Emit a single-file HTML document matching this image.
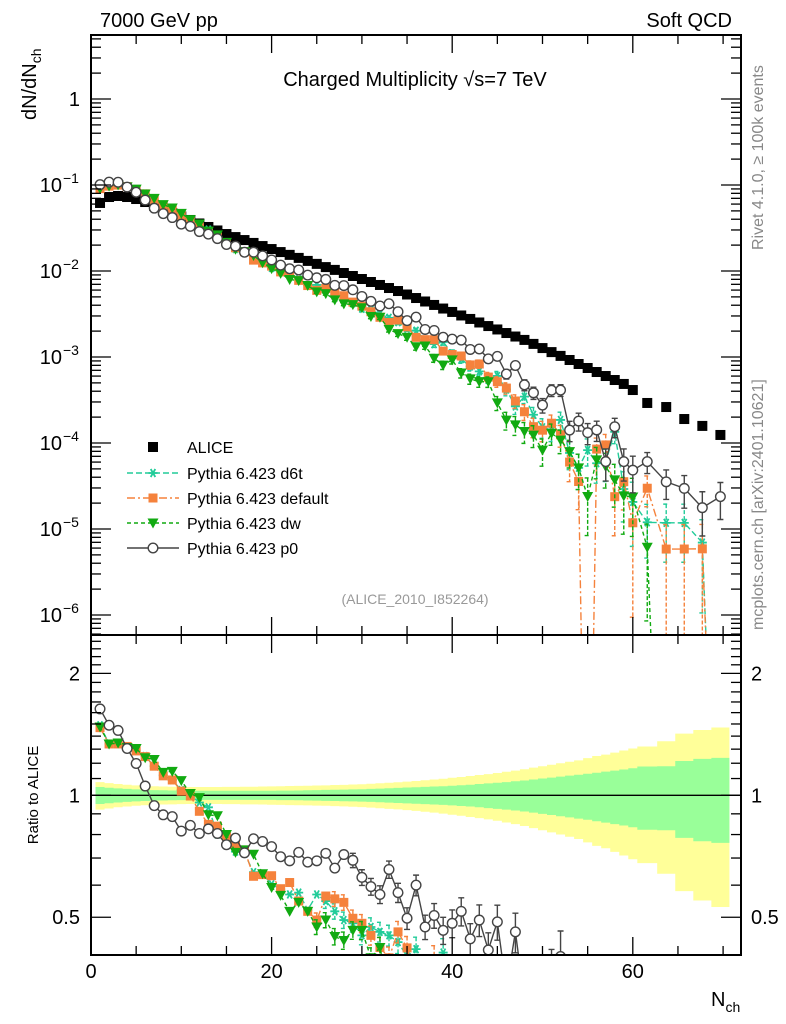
<!DOCTYPE html>
<html><head><meta charset="utf-8">
<style>
html,body{margin:0;padding:0;background:#fff;width:786px;height:1024px;overflow:hidden;}
svg{display:block;font-family:"Liberation Sans",Arial,sans-serif;overflow:hidden;}
</style></head>
<body>
<svg id="chart" width="786" height="1024" viewBox="0 0 786 1024" xmlns="http://www.w3.org/2000/svg">
<defs>
<clipPath id="clipMain"><rect x="91" y="35" width="650" height="600"/></clipPath>
<clipPath id="clipRat"><rect x="91" y="635" width="650" height="320"/></clipPath>
</defs>
<text x="100" y="27" font-size="20">7000 GeV pp</text>
<text x="732" y="27" font-size="20" text-anchor="end">Soft QCD</text>
<text x="415" y="86" font-size="20" text-anchor="middle">Charged Multiplicity √s=7 TeV</text>
<text x="415" y="604" font-size="14" fill="#999" text-anchor="middle">(ALICE_2010_I852264)</text>
<text transform="translate(763,250) rotate(-90)" font-size="16" fill="#888">Rivet 4.1.0, ≥ 100k events</text>
<text transform="translate(763,630) rotate(-90)" font-size="16" fill="#888">mcplots.cern.ch [arXiv:2401.10621]</text>
<text transform="translate(36,120) rotate(-90)" font-size="20">dN/dN<tspan font-size="14" dy="5">ch</tspan></text>
<text transform="translate(38,795) rotate(-90)" font-size="15" text-anchor="middle">Ratio to ALICE</text>
<text x="711" y="1006" font-size="20">N<tspan font-size="14" dy="6">ch</tspan></text>
<g id="bands" clip-path="url(#clipRat)"></g>
<g id="marksMain" clip-path="url(#clipMain)"></g>
<g id="marksRat" clip-path="url(#clipRat)"></g>
<g id="axes"></g>
<g id="legend"></g>
</svg>
<script>
const nch = [1,2,3,4,5,6,7,8,9,10,11,12,13,14,15,16,17,18,19,20,21,22,23,24,25,26,27,28,29,30,31,32,33,34,35,36,37,38,39,40,41,42,43,44,45,46,47,48,49,50,51,52,53,54,55,56,57,58,59,60,61.6,63.7,65.7,67.7,69.7];
const binWidth = [1,1,1,1,1,1,1,1,1,1,1,1,1,1,1,1,1,1,1,1,1,1,1,1,1,1,1,1,1,1,1,1,1,1,1,1,1,1,1,1,1,1,1,1,1,1,1,1,1,1,1,1,1,1,1,1,1,1,1,1,2.2,2,2,2,2];
const alice = [0.0618,0.0725,0.0745,0.0725,0.0687,0.0634,0.0570,0.0519,0.0472,0.0430,0.0392,0.0357,0.0325,0.0296,0.0269,0.0248,0.0229,0.0212,0.0195,0.0180,0.0166,0.0154,0.0142,0.0131,0.0121,0.0111,0.0103,0.00948,0.00875,0.00807,0.00745,0.00688,0.00634,0.00585,0.00533,0.00485,0.00442,0.00403,0.00366,0.00334,0.00304,0.00277,0.00252,0.00229,0.00209,0.00190,0.00173,0.00158,0.00142,0.00127,0.00114,0.00103,0.000923,0.000829,0.000745,0.000669,0.000601,0.000540,0.000486,0.000413,0.000292,0.000262,0.000190,0.000158,0.000124];
const errTotal = [0.078,0.072,0.066,0.062,0.058,0.055,0.053,0.051,0.05,0.049,0.048,0.048,0.048,0.048,0.049,0.049,0.05,0.05,0.051,0.052,0.053,0.054,0.055,0.056,0.057,0.058,0.06,0.061,0.063,0.065,0.068,0.071,0.074,0.077,0.081,0.085,0.089,0.094,0.099,0.105,0.11,0.116,0.122,0.128,0.135,0.143,0.151,0.16,0.17,0.18,0.19,0.2,0.21,0.22,0.235,0.25,0.26,0.275,0.29,0.305,0.32,0.36,0.42,0.45,0.47];
const errStat = [0.048,0.044,0.04,0.037,0.034,0.032,0.03,0.029,0.028,0.027,0.026,0.026,0.026,0.026,0.026,0.026,0.026,0.026,0.026,0.026,0.027,0.027,0.028,0.029,0.03,0.031,0.032,0.033,0.034,0.035,0.037,0.039,0.041,0.043,0.045,0.047,0.049,0.051,0.053,0.056,0.059,0.062,0.066,0.07,0.074,0.078,0.083,0.088,0.094,0.1,0.106,0.112,0.118,0.124,0.13,0.137,0.144,0.151,0.158,0.166,0.178,0.18,0.215,0.23,0.237];
const ratioD6t = [1.489,1.34,1.34,1.32,1.29,1.25,1.18,1.12,1.09,1.03,1.00,0.96,0.934,0.800,0.800,0.726,0.719,0.646,0.640,0.603,0.586,0.569,0.575,0.521,0.569,0.548,0.517,0.492,0.483,0.451,0.473,0.460,0.451,0.434,0.40,0.417,0.36,0.35,0.409,0.33,0.31,0.28,0.27,0.25,0.288,0.22,0.154,0.219,0.15,0.12,0.124,0.180,0.083,0.062,0.111,0.087,0.10,0.25,0.06,0.05,0.041,0.045,0.062,0.044,0];
const ratioDefault = [1.469,1.339,1.339,1.320,1.287,1.246,1.180,1.117,1.091,1.024,0.996,0.913,0.848,0.839,0.792,0.751,0.733,0.631,0.637,0.633,0.588,0.609,0.548,0.517,0.492,0.564,0.555,0.544,0.497,0.483,0.451,0.421,0.397,0.460,0.42,0.349,0.36,0.394,0.32,0.32,0.338,0.292,0.329,0.255,0.247,0.229,0.178,0.146,0.109,0.111,0.149,0.121,0.065,0.043,0,0.127,0.158,0.044,0.073,0.0286,0.102,0.0223,0.0308,0.0372,0];
const ratioDw = [1.475,1.339,1.346,1.312,1.305,1.238,1.226,1.139,1.146,1.087,1.010,0.987,0.895,0.890,0.800,0.723,0.733,0.715,0.640,0.592,0.566,0.517,0.544,0.517,0.473,0.492,0.448,0.438,0.464,0.464,0.397,0.421,0.33,0.32,0.318,0.271,0.304,0.240,0.220,0.277,0.214,0.201,0.205,0.225,0.140,0.097,0.094,0.086,0.087,0.065,0.114,0.105,0.086,0.062,0.032,0.095,0.088,0.069,0.050,0.057,0.021,0,0,0,0];
const ratioP0 = [1.634,1.489,1.446,1.305,1.198,1.054,0.943,0.895,0.886,0.816,0.843,0.805,0.826,0.805,0.755,0.784,0.721,0.781,0.769,0.747,0.705,0.689,0.723,0.684,0.689,0.719,0.661,0.714,0.691,0.627,0.595,0.569,0.656,0.575,0.497,0.600,0.473,0.505,0.464,0.483,0.517,0.442,0.492,0.415,0.487,0.334,0.46,0.30,0.27,0.217,0.36,0.40,0.153,0.217,0.177,0.212,0.101,0.286,0.125,0.117,0.208,0.135,0.156,0.112,0.192];
const seriesNames = ["Pythia 6.423 d6t","Pythia 6.423 default","Pythia 6.423 dw","Pythia 6.423 p0"];
const xTicks = [0,20,40,60];
const mainTickExps = [0,-1,-2,-3,-4,-5,-6];
const ratioTicks = [0.5,1,2];

const NS="http://www.w3.org/2000/svg";
const X0=91,X1=741,MT=35,MB=635,RT=635,RB=955,YOFF=1000;
function xS(n){return X0+n*9.03;}
function yM(v){return v>0? Math.min(99-86*Math.log10(v),YOFF) : YOFF;}
function yR(r){return r>0? Math.min(795.3-405*Math.log10(r),YOFF) : YOFF;}
function mk(tag,attrs,parent){const e=document.createElementNS(NS,tag);for(const k in attrs)e.setAttribute(k,attrs[k]);parent.appendChild(e);return e;}
const bands=document.getElementById('bands'),gM=document.getElementById('marksMain'),gR=document.getElementById('marksRat'),ax=document.getElementById('axes'),lg=document.getElementById('legend');

function edges(i){const w=binWidth[i];return [xS(nch[i]-w/2),xS(nch[i]+w/2)];}
function bandPath(err){let up='',lo=[];for(let i=0;i<nch.length;i++){const[a,b]=edges(i);const yu=yR(1+err[i]),yl=yR(1-err[i]);up+=(i?'L':'M')+a+','+yu+'L'+b+','+yu;lo.unshift('L'+b+','+yl+'L'+a+','+yl);}return up+lo.join('')+'Z';}
let bY=mk('path',{d:bandPath(errTotal),fill:'#ffff99'},bands);


let bG=mk('path',{d:bandPath(errStat),fill:'#99ff99'},bands);


let ref=mk('line',{x1:X0,x2:X1,y1:yR(1),y2:yR(1),stroke:'#000','stroke-width':1.3},bands);



const styles=[
 {name:'d6t',color:'#22cc99',dash:'6,3',marker:'star',ratios:ratioD6t},
 {name:'default',color:'#f5823c',dash:'8,3,2,3',marker:'square',ratios:ratioDefault},
 {name:'dw',color:'#11aa11',dash:'4,3',marker:'tri',ratios:ratioDw},
 {name:'p0',color:'#444444',dash:'',marker:'circle',ratios:ratioP0}
];
function marker(type,x,y,c,parent){
 let e;
 if(type==='square') e=mk('rect',{x:x-4.5,y:y-4.5,width:9,height:9,fill:c},parent);
 else if(type==='bsquare') e=mk('rect',{x:x-5,y:y-5,width:10,height:10,fill:c},parent);
 else if(type==='tri') e=mk('path',{d:`M${x-5.5},${y-4.5}L${x+5.5},${y-4.5}L${x},${y+5.5}Z`,fill:c},parent);
 else if(type==='circle') e=mk('circle',{cx:x,cy:y,r:4.8,fill:'#fff',stroke:c,'stroke-width':1.4},parent);
 else { e=mk('path',{d:`M${x-4.5},${y}L${x+4.5},${y}M${x-2.3},${y-4}L${x+2.3},${y+4}M${x+2.3},${y-4}L${x-2.3},${y+4}`,stroke:c,'stroke-width':1.8},parent);}
 return e;
}
function drawSeries(s,vals,yf,g,tag){
 let d='';
 for(let i=0;i<nch.length;i++){d+=(i?'L':'M')+xS(nch[i]).toFixed(1)+','+yf(vals[i]).toFixed(1);}
 const ln=mk('path',{d:d,fill:'none',stroke:s.color,'stroke-width':1.4,'stroke-dasharray':s.dash},g);
 
 
 for(let i=0;i<nch.length;i++){
  const v=vals[i]; const mcv=alice[i]*s.ratios[i];
  const x=xS(nch[i]);
  const rel=mcv>0?1/Math.sqrt(mcv*1e5*binWidth[i]):0;
  if(mcv>0 && rel>0.04){
   const yu=yf(v*(1+rel)), yl=rel>=1?YOFF:yf(v*(1-rel));
   const eb=mk('path',{d:`M${x},${yu}L${x},${yl}M${x-3},${yu}L${x+3},${yu}M${x-3},${yl}L${x+3},${yl}`,stroke:s.color,'stroke-width':1.4,'stroke-dasharray':s.dash?'4,2':''},g);
   
   
  }
  if(v>0 && yf(v)<YOFF){const m=marker(s.marker,x,yf(v),s.color,g);
   
   }
 }
}
for(let i=0;i<nch.length;i++){
 const m=marker('bsquare',xS(nch[i]),yM(alice[i]),'#000',gM);
 
 
}
styles.forEach(s=>{
 const mainVals=alice.map((a,i)=>a*s.ratios[i]);
 drawSeries(s,mainVals,yM,gM,'main');
 drawSeries(s,s.ratios,yR,gR,'ratio');
});

[[MT,MB],[RT,RB]].forEach(([t,b],k)=>{
 const r=mk('rect',{x:X0,y:t,width:X1-X0,height:b-t,fill:'none',stroke:'#000','stroke-width':2},ax);
 
 
});
function tick(x1,y1,x2,y2){mk('line',{x1,y1,x2,y2,stroke:'#000','stroke-width':1.3},ax);}
for(let n=0;n<=70;n+=5){const x=xS(n);const L=(n%20===0)?18:9;
 tick(x,MB,x,MB-L);tick(x,MT,x,MT+L);tick(x,RB,x,RB-L);tick(x,RT,x,RT+L);}
xTicks.forEach(n=>{const t=mk('text',{x:xS(n),y:978,'font-size':20,'text-anchor':'middle'},ax);t.textContent=n;
 
 });
for(let e=-7;e<=0;e++){for(let m=1;m<10;m++){const y=99-86*Math.log10(m*Math.pow(10,e));if(y<MT||y>MB)continue;const L=m===1?20:10;tick(X0,y,X0+L,y);tick(X1,y,X1-L,y);}}
mainTickExps.forEach(e=>{const y=yM(Math.pow(10,e));
 const t=mk('text',{x:e===0?80:62,y:y+7,'font-size':20,'text-anchor':'end'},ax);
 t.textContent=e===0?'1':'10';
 
 
 if(e!==0){const s=mk('text',{x:63,y:y-2,'font-size':14},ax);s.textContent='−'+(-e);
  
  }
});
for(let k=4;k<=25;k++){const r=k/10;const y=yR(r);if(y<RT||y>RB)continue;const L=(k===5||k===10||k===20)?20:10;tick(X0,y,X0+L,y);tick(X1,y,X1-L,y);}
ratioTicks.forEach(r=>{const y=yR(r);
 const t=mk('text',{x:80,y:y+7,'font-size':20,'text-anchor':'end'},ax);t.textContent=r;
 
 
 const t2=mk('text',{x:751,y:y+7,'font-size':20},ax);t2.textContent=r;
 
 
});
const legY=[447,473,498,523,548];
let le=mk('g',{},lg);


marker('bsquare',153,legY[0],'#000',le);
let lt=mk('text',{x:187,y:legY[0]+6,'font-size':16},le);lt.textContent='ALICE';
styles.forEach((s,i)=>{
 const g=mk('g',{},lg);
 
 
 const y=legY[i+1];
 mk('line',{x1:127,x2:179,y1:y,y2:y,stroke:s.color,'stroke-width':1.4,'stroke-dasharray':s.dash},g);
 marker(s.marker,153,y,s.color,g);
 const t=mk('text',{x:187,y:y+6,'font-size':16},g);t.textContent=seriesNames[i];
});
</script>
</body></html>
